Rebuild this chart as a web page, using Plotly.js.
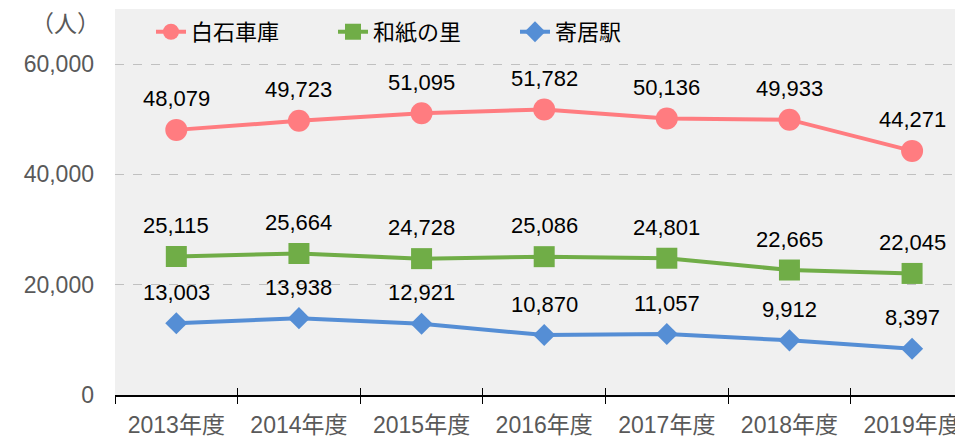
<!DOCTYPE html>
<html><head><meta charset="utf-8">
<script src="https://cdn.plot.ly/plotly-3.0.1.min.js"></script>
<style>html,body{margin:0;padding:0;background:#fff;}#chart{width:955px;height:439px;}</style>
</head><body><div id="chart"></div>
<script>
const categories = ["2013年度","2014年度","2015年度","2016年度","2017年度","2018年度","2019年度"];
const seriesNames = ["白石車庫","和紙の里","寄居駅"];
const shiraishi = [48079, 49723, 51095, 51782, 50136, 49933, 44271];
const washi = [25115, 25664, 24728, 25086, 24801, 22665, 22045];
const yorii = [13003, 13938, 12921, 10870, 11057, 9912, 8397];
const yTickVals = [0, 20000, 40000, 60000];
const yTickText = ["0", "20,000", "40,000", "60,000"];
const unitLabel = "（人）";

const FONT = "Liberation Sans, Arial, Noto Sans CJK JP, sans-serif";
const colors = ["#FF7C80", "#70AD47", "#558ED5"];
const symbols = ["circle", "square", "diamond"];
const sizes = [22, 21, 17];
const allSeries = [shiraishi, washi, yorii];

const traces = allSeries.map((vals, i) => ({
  type: "scatter", mode: "lines+markers", name: seriesNames[i],
  x: categories, y: vals,
  line: {color: colors[i], width: 4},
  marker: {color: colors[i], symbol: symbols[i], size: sizes[i]},
  hoverinfo: "skip"
}));
traces.push({type: "scatter", x: [null], y: [null], xaxis: "x2", yaxis: "y", showlegend: false, hoverinfo: "skip", mode: "none"});

const annotations = [];
allSeries.forEach(vals => {
  vals.forEach((v, j) => {
    annotations.push({x: categories[j], y: v, xref: "x", yref: "y", text: v.toLocaleString("en-US"),
      showarrow: false, yshift: 31, font: {family: FONT, size: 22, color: "#000"}});
  });
});
annotations.push({xref: "paper", yref: "paper", x: -50/840, y: (395-24)/386, xanchor: "center", yanchor: "middle",
  text: unitLabel, showarrow: false, font: {family: FONT, size: 23, color: "#595959"}});

const boundaries = categories.map((c, i) => i - 0.5);

const layout = {
  width: 955, height: 439,
  margin: {l: 115, r: 0, t: 9, b: 44},
  paper_bgcolor: "#ffffff", plot_bgcolor: "#f0f0f0",
  font: {family: FONT, size: 22, color: "#595959"},
  showlegend: true,
  legend: {orientation: "h", x: 36/840, y: 0.995, xanchor: "left", yanchor: "top",
    bgcolor: "rgba(0,0,0,0)", font: {family: FONT, size: 22, color: "#000"}, entrywidth: 137, entrywidthmode: "pixels"},
  xaxis: {type: "category", range: [-0.5, 6.35], tickson: "boundaries", ticks: "outside", ticklen: 7, tickcolor: "#000",
    showline: true, linecolor: "#000", linewidth: 1.5, showgrid: false, zeroline: false, ticklabelstandoff: 9,
    tickfont: {family: FONT, size: 23, color: "#595959"}, fixedrange: true},
  xaxis2: {overlaying: "x", type: "linear", range: [-0.5, 6.35], tickvals: boundaries, ticks: "inside", ticklen: 7,
    tickcolor: "#000", showticklabels: false, showline: false, showgrid: false, zeroline: false},
  yaxis: {range: [0, 70000], tickvals: yTickVals, ticktext: yTickText, ticks: "", showline: false,
    showgrid: true, gridcolor: "#c0c0c0", griddash: "dash", gridwidth: 1, zeroline: false,
    ticklabelstandoff: 20, tickfont: {family: FONT, size: 23, color: "#595959"}},
  annotations: annotations
};
Plotly.newPlot("chart", traces, layout, {displayModeBar: false, staticPlot: true});
</script></body></html>
